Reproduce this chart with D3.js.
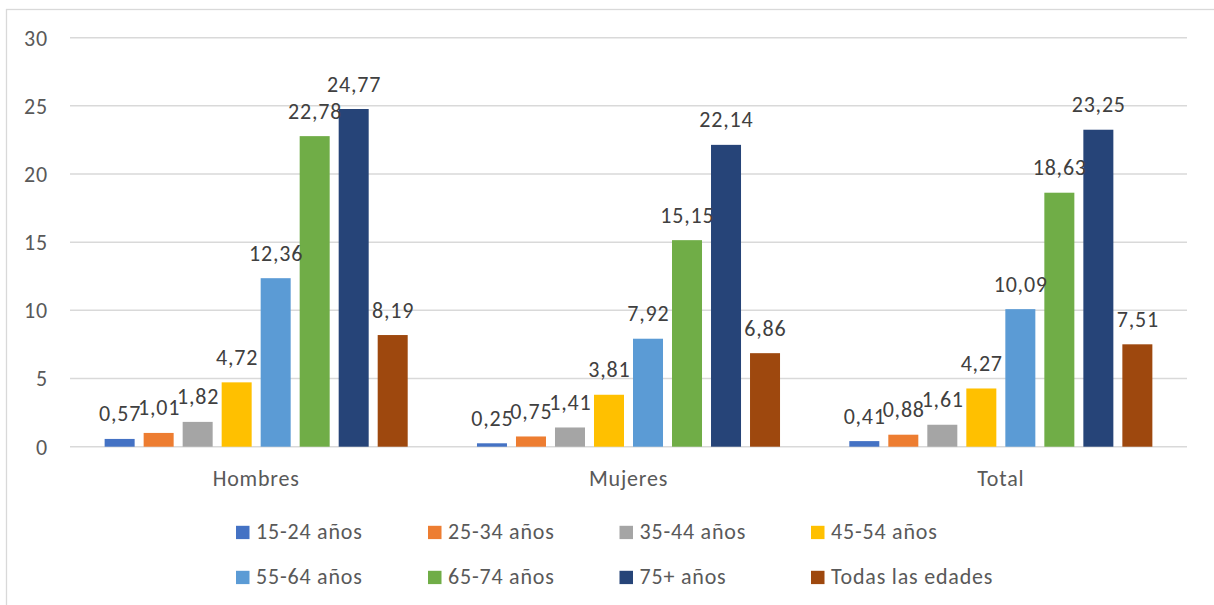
<!DOCTYPE html><html><head><meta charset="utf-8"><script src="https://cdn.jsdelivr.net/npm/d3@7"></script>
<style>body{margin:0;background:#fff}text{font-family:Carlito,Calibri,"Liberation Sans",sans-serif;letter-spacing:0.8px}</style></head><body>
<svg width="1214" height="605"></svg>
<script>
const categories=["Hombres","Mujeres","Total"];
const seriesNames=["15-24 años","25-34 años","35-44 años","45-54 años","55-64 años","65-74 años","75+ años","Todas las edades"];
const s1524=[0.57,0.25,0.41];
const s2534=[1.01,0.75,0.88];
const s3544=[1.82,1.41,1.61];
const s4554=[4.72,3.81,4.27];
const s5564=[12.36,7.92,10.09];
const s6574=[22.78,15.15,18.63];
const s75=[24.77,22.14,23.25];
const sTodas=[8.19,6.86,7.51];
const yTicks=[0,5,10,15,20,25,30];
const colors=["#4472C4","#ED7D31","#A5A5A5","#FFC000","#5B9BD5","#70AD47","#264478","#9E480E"];
const seriesValues=[s1524,s2534,s3544,s4554,s5564,s6574,s75,sTodas];

const svg=d3.select("svg");
svg.append("rect").attr("x",6.5).attr("y",9.5).attr("width",1220).attr("height",610).attr("fill","none").attr("stroke","#d9d9d9").attr("stroke-width",1.3);

const x0=d3.scaleBand().domain(categories).range([70,1187]).padding(0);
const x1=d3.scaleBand().domain(seriesNames).range([0,x0.bandwidth()]).paddingInner(0.2308).paddingOuter(0.888);
const y=d3.scaleLinear().domain([0,30]).range([446.7,37.7]);
const fmt=v=>v.toFixed(2).replace(".",",");

// grid
svg.append("g").selectAll("line").data(yTicks).join("line")
 .attr("x1",70).attr("x2",1187).attr("y1",d=>y(d)).attr("y2",d=>y(d))
 .attr("stroke","#d9d9d9").attr("stroke-width",1.5);
// y axis labels
const yAxis=d3.axisLeft(y).tickValues(yTicks).tickSize(0).tickPadding(0).tickFormat(d=>d);
const ya=svg.append("g").attr("transform","translate(48,0)").call(yAxis);
ya.select(".domain").remove();
ya.selectAll("text").attr("font-size",22).attr("fill","#595959").style("font-family","Carlito,sans-serif").attr("dy",null).attr("y",7.3);
// x axis labels
const xAxis=d3.axisBottom(x0).tickSize(0).tickPadding(0);
const xa=svg.append("g").attr("transform","translate(0,486.3)").call(xAxis);
xa.select(".domain").remove();
xa.selectAll("text").attr("font-size",22).attr("fill","#595959").style("font-family","Carlito,sans-serif").attr("dy",null).attr("y",0);

// bars
const data=[];
categories.forEach((c,ci)=>seriesNames.forEach((s,si)=>data.push({c,s,si,v:seriesValues[si][ci]})));
const g=svg.append("g");
g.selectAll("rect").data(data).join("rect")
 .attr("x",d=>x0(d.c)+x1(d.s)).attr("width",x1.bandwidth())
 .attr("y",d=>y(d.v)).attr("height",d=>y(0)-y(d.v))
 .attr("fill",d=>colors[d.si]);
g.selectAll("text").data(data).join("text")
 .attr("x",d=>x0(d.c)+x1(d.s)+x1.bandwidth()/2+0.4).attr("y",d=>y(d.v)-17.5)
 .attr("text-anchor","middle").attr("font-size",22).attr("fill","#404040").text(d=>fmt(d.v));

// legend
const legX=[236,428,619.5,811];
const legY=[539.3,584.3];
const leg=svg.append("g");
seriesNames.forEach((s,i)=>{
 const lx=legX[i%4], ly=legY[Math.floor(i/4)];
 const it=leg.append("g").attr("transform",`translate(${lx},${ly})`);
 it.append("rect").attr("x",0).attr("y",-13.5).attr("width",13.5).attr("height",13.3).attr("fill",colors[i]);
 it.append("text").attr("x",20).attr("y",0).attr("font-size",22).attr("fill","#595959").text(s);
});
</script></body></html>
